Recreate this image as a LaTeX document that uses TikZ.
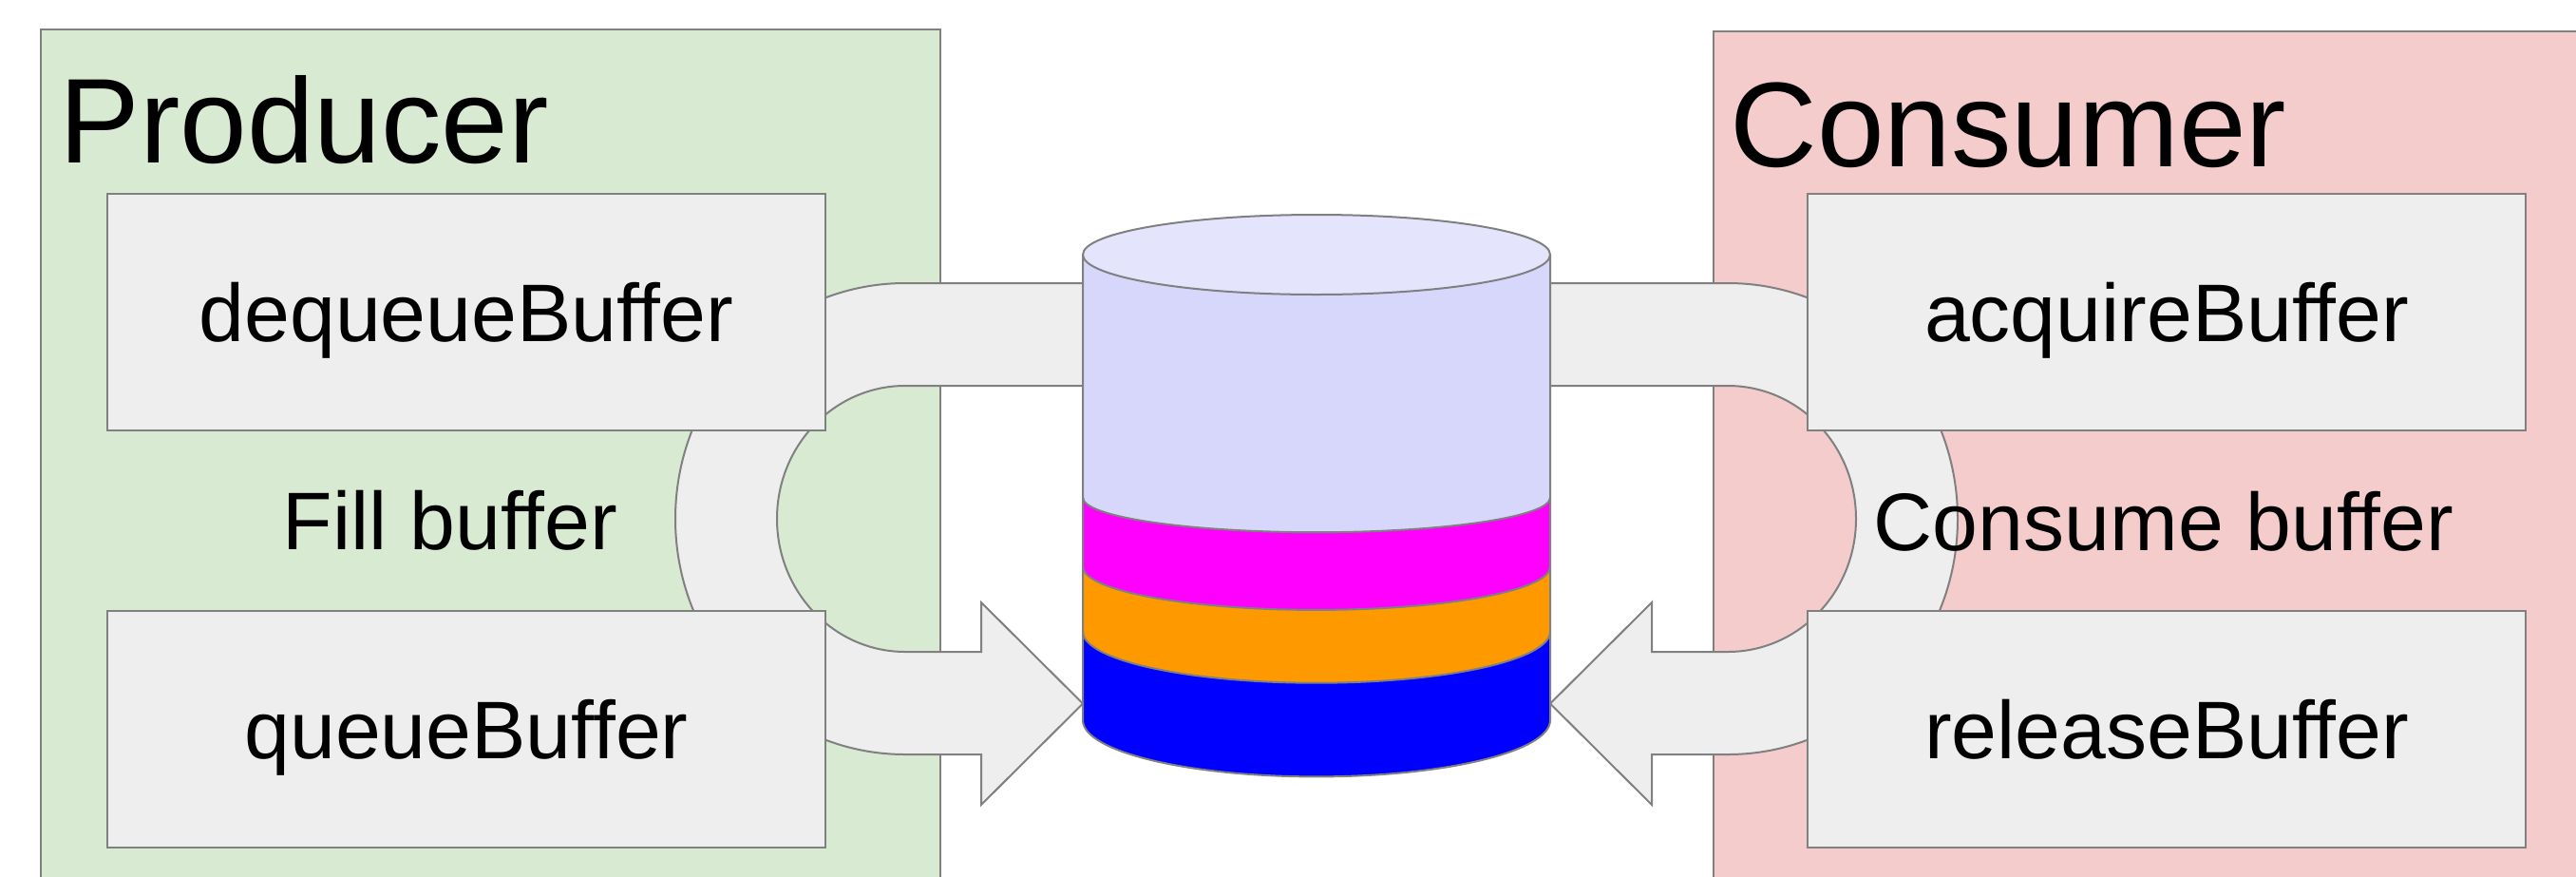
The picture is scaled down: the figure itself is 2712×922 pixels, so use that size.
\documentclass[tikz,border=0pt]{standalone}
\usepackage{fontspec}
\setmainfont{Liberation Sans}
\definecolor{edgegray}{HTML}{808080}
\definecolor{prodgreen}{HTML}{D9EAD3}
\definecolor{consred}{HTML}{F4CCCC}
\definecolor{boxgray}{HTML}{EEEEEE}
\definecolor{lavside}{RGB}{215,215,252}
\definecolor{lavtop}{RGB}{228,228,252}
\definecolor{bufmagenta}{HTML}{FF00FF}
\definecolor{buforange}{HTML}{FF9900}
\definecolor{bufblue}{HTML}{0000FF}
\begin{document}
\begin{tikzpicture}[x=1pt,y=1pt,
  outline/.style={draw=edgegray,line width=2pt},
  panel/.style={outline},
  band/.style={outline,fill=boxgray,line join=miter},
  callbox/.style={outline,fill=boxgray,rectangle,inner sep=0pt,outer sep=0pt,
    minimum width=756pt,minimum height=249pt},
  lbl/.style={inner sep=0pt,outer sep=0pt,anchor=base,
    font=\fontsize{86}{100}\selectfont},
  title/.style={inner sep=0pt,outer sep=0pt,anchor=base west,
    font=\fontsize{127}{150}\selectfont},
  layer/.style={draw=none},
  rim/.style={outline}]
\useasboundingbox (0,0) rectangle (2712,-922);
\clip (0,0) rectangle (2712,-922);

% side panels
\draw[panel,fill=prodgreen] (43,-31) rectangle (990,-960);
\draw[panel,fill=consred] (1804,-33) rectangle (2760,-960);

% U-turn band with arrow head, producer side
\path[band] (1150,-298) -- (953,-298)
  arc[start angle=90,end angle=270,x radius=242,y radius=248]
  -- (1033,-794) -- (1033,-847) -- (1140,-740.5) -- (1033,-634) -- (1033,-686)
  -- (953,-686)
  arc[start angle=270,end angle=90,x radius=135,y radius=140]
  -- (1150,-406) -- cycle;

% the same band mirrored, consumer side
\begin{scope}[xshift=2772pt,xscale=-1]
\path[band] (1150,-298) -- (953,-298)
  arc[start angle=90,end angle=270,x radius=242,y radius=248]
  -- (1033,-794) -- (1033,-847) -- (1140,-740.5) -- (1033,-634) -- (1033,-686)
  -- (953,-686)
  arc[start angle=270,end angle=90,x radius=135,y radius=140]
  -- (1150,-406) -- cycle;
\end{scope}

% titles
\node[title] (prod) at (62.5,-171.7) {Producer};
\node[title] (cons) at (1821.5,-175) {Consumer};

% call boxes
\node[callbox] (deq) at (491,-328) {};
\node[callbox] (que) at (491,-767) {};
\node[callbox] (acq) at (2281,-328) {};
\node[callbox] (rel) at (2281,-767) {};

\node[lbl] (deqt) at ([yshift=-31.3pt]deq.center) {dequeueBuffer};
\node[lbl] (quet) at ([yshift=-31.3pt]que.center) {queueBuffer};
\node[lbl] (acqt) at ([yshift=-31.3pt]acq.center) {acquireBuffer};
\node[lbl] (relt) at ([yshift=-31.3pt]rel.center) {releaseBuffer};

\node[lbl] (fill) at (474,-578.3) {Fill buffer};
\node[lbl] (consume) at (2278,-579) {Consume buffer};

% buffer queue drawn as a stacked cylinder
\coordinate (qtop) at (1386,-268);
\fill[bufblue] (1140,-664.7) -- (1140,-758)
  arc[start angle=180,end angle=360,x radius=246,y radius=59.4] -- (1632,-664.7) -- cycle;
\fill[buforange] (1140,-596.3) -- (1140,-664.7)
  arc[start angle=180,end angle=360,x radius=246,y radius=54] -- (1632,-596.3) -- cycle;
\fill[bufmagenta] (1140,-523.7) -- (1140,-596.3)
  arc[start angle=180,end angle=360,x radius=246,y radius=45.6] -- (1632,-523.7) -- cycle;
\fill[lavside] (1140,-268) -- (1140,-523.7)
  arc[start angle=180,end angle=360,x radius=246,y radius=36.5] -- (1632,-268) -- cycle;
\draw[rim] (1140,-523.7) arc[start angle=180,end angle=360,x radius=246,y radius=36.5];
\draw[rim] (1140,-596.3) arc[start angle=180,end angle=360,x radius=246,y radius=45.6];
\draw[rim] (1140,-664.7) arc[start angle=180,end angle=360,x radius=246,y radius=54];
\draw[rim] (1140,-268) -- (1140,-758)
  arc[start angle=180,end angle=360,x radius=246,y radius=59.4] -- (1632,-268);
\draw[rim,fill=lavtop] (qtop) ellipse[x radius=246,y radius=42];
\end{tikzpicture}
\end{document}
